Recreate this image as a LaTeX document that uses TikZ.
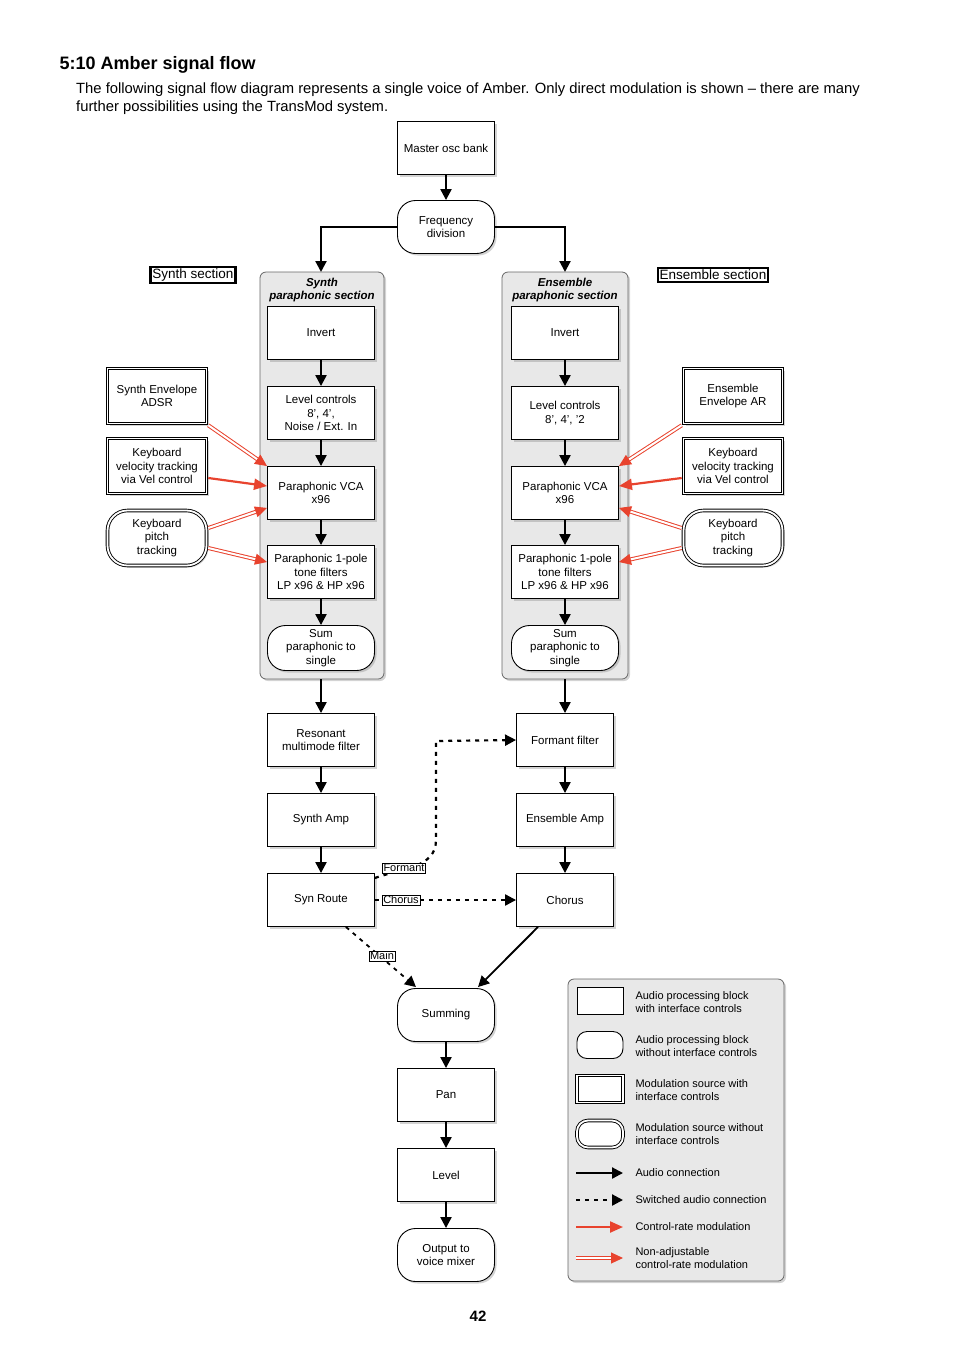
\documentclass[tikz,border=0pt]{standalone}
\usepackage{fontspec}
\setmainfont{Liberation Sans}
\usetikzlibrary{positioning,arrows.meta,shadows}
\definecolor{modred}{RGB}{232,67,46}

\tikzset{
  blk/.style={draw,line width=0.9pt,fill=white,align=center,minimum height=53pt,minimum width=107pt,font=\fontsize{11.5}{13.5}\selectfont,drop shadow={opacity=0.35,shadow xshift=2pt,shadow yshift=-2pt}},
  rblk/.style={blk,rounded corners=18pt},
  mod/.style={blk,minimum width=99pt,minimum height=55pt,line width=3.6pt,postaction={draw=white,line width=1.8pt}},
  rmod/.style={mod,rounded corners=20pt},
  panel/.style={draw=gray!80!black,fill=gray!18,rounded corners=6pt,line width=0.8pt,drop shadow={opacity=0.35,shadow xshift=2pt,shadow yshift=-2pt}},
  aud/.style={-{Triangle[length=11pt,width=11pt]},line width=2.2pt},
  sw/.style={aud,dash pattern=on 4pt off 5pt},
  ctl/.style={-{Triangle[length=13pt,width=11pt]},draw=modred,fill=modred,line width=2.2pt},
  nadj/.style={draw=modred,double=white,double distance=2pt,line width=1pt,-{Triangle[length=12pt,width=11pt,fill=modred]}},
  sec/.style={draw,line width=2.2pt,inner sep=2pt,font=\fontsize{13.5}{15}\selectfont},
  tag/.style={draw,fill=white,inner sep=1pt,font=\fontsize{11}{13}\selectfont}
}

\begin{document}
\begin{tikzpicture}[x=1pt,y=-1pt]
  \useasboundingbox (0,0) rectangle (954,1350);

  \node[anchor=west,font=\fontsize{18}{20}\selectfont\bfseries] at (56,65) {5:10 Amber signal flow};
  \node[anchor=north west,align=left,font=\fontsize{14.8}{18}\selectfont,inner sep=0pt] at (76,83)
    {The following signal flow diagram represents a single voice of Amber. Only direct modulation is shown -- there are many\\further possibilities using the TransMod system.};
  \node[font=\fontsize{15}{17}\selectfont\bfseries] at (478,1316) {42};

  % panels
  \draw[panel] (260,272) rectangle (384,679);
  \draw[panel] (502,272) rectangle (628,679);
  \draw[panel] (568,979) rectangle (784,1281);
  \node[align=center,font=\fontsize{11.5}{13.5}\selectfont\bfseries\itshape] at (322,290) {Synth\\paraphonic section};
  \node[align=center,font=\fontsize{11.5}{13.5}\selectfont\bfseries\itshape] at (565,290) {Ensemble\\paraphonic section};

  \node[sec] (synsec) at (193,275) {Synth section};
  \node[sec] (enssec) at (713,275) {Ensemble section};

  % top
  \node[blk,minimum width=97pt] (osc) at (446,148) {Master osc bank};
  \node[rblk,minimum width=97pt] (freq) at (446,227) {Frequency\\division};

  % synth column
  \node[blk] (sinv) at (321,333) {Invert};
  \node[blk] (slev) at (321,413) {Level controls\\8', 4',\\Noise / Ext. In};
  \node[blk] (svca) at (321,493) {Paraphonic VCA\\x96};
  \node[blk] (sflt) at (321,572) {Paraphonic 1-pole\\tone filters\\LP x96 \& HP x96};
  \node[rblk,minimum height=45pt] (ssum) at (321,648) {Sum\\paraphonic to\\single};
  \node[blk] (sres) at (321,740) {Resonant\\multimode filter};
  \node[blk] (samp) at (321,820) {Synth Amp};
  \node[blk] (sroute) at (321,900) {Syn Route};

  % ensemble column
  \node[blk] (einv) at (565,333) {Invert};
  \node[blk] (elev) at (565,413) {Level controls\\8', 4', '2};
  \node[blk] (evca) at (565,493) {Paraphonic VCA\\x96};
  \node[blk] (eflt) at (565,572) {Paraphonic 1-pole\\tone filters\\LP x96 \& HP x96};
  \node[rblk,minimum height=45pt] (esum) at (565,648) {Sum\\paraphonic to\\single};
  \node[blk,minimum width=97pt] (eform) at (565,740) {Formant filter};
  \node[blk,minimum width=97pt] (eamp) at (565,820) {Ensemble Amp};
  \node[blk,minimum width=97pt] (echor) at (565,900) {Chorus};

  % output chain
  \node[rblk,minimum width=97pt] (summ) at (446,1015) {Summing};
  \node[blk,minimum width=97pt] (pan) at (446,1095) {Pan};
  \node[blk,minimum width=97pt] (level) at (446,1175) {Level};
  \node[rblk,minimum width=97pt] (out) at (446,1255) {Output to\\voice mixer};

  % modulation sources
  \node[mod] (senv) at (157,396) {Synth Envelope\\ADSR};
  \node[mod] (svel) at (157,466) {Keyboard\\velocity tracking\\via Vel control};
  \node[rmod] (spitch) at (157,538) {Keyboard\\pitch\\tracking};
  \node[mod] (eenv) at (733,396) {Ensemble\\Envelope AR};
  \node[mod] (evel) at (733,466) {Keyboard\\velocity tracking\\via Vel control};
  \node[rmod] (epitch) at (733,538) {Keyboard\\pitch\\tracking};

  % audio
  \draw[aud] (osc) -- (freq);
  \draw[aud] (freq.west) -| (321,272);
  \draw[aud] (freq.east) -| (565,272);
  \foreach \a/\b in {sinv/slev,slev/svca,svca/sflt,sflt/ssum,sres/samp,samp/sroute,
                     einv/elev,elev/evca,evca/eflt,eflt/esum,eform/eamp,eamp/echor,
                     summ/pan,pan/level,level/out}
    \draw[aud] (\a) -- (\b);
  \draw[aud] (321,679) -- (sres);
  \draw[aud] (565,679) -- (eform);
  \draw[aud,line width=1.8pt] ([xshift=-27pt]echor.south) -- ([xshift=32pt,yshift=1pt]summ.north);

  % switched
  \draw[sw] ([yshift=22pt]sroute.east) to[out=20,in=-90] (436,840) -- (436,741) -- (eform.west);
  \node[tag] at (404,868) {Formant};
  \draw[sw] (sroute.east) -- (echor.west);
  \node[tag] at (401,900) {Chorus};
  \draw[sw,line width=1.8pt] ([xshift=-29pt]sroute.south east) -- ([xshift=-30pt,yshift=1pt]summ.north);
  \node[tag] at (382,956) {Main};

  % modulation
  \draw[nadj] (senv.south east) -- (svca.north west);
  \draw[ctl] ([yshift=-12pt]svel.east) -- ([yshift=7pt]svca.west);
  \draw[nadj] ([yshift=10pt]spitch.east) -- ([yshift=12pt]svca.south west);
  \draw[nadj] ([yshift=-10pt]spitch.east) -- ([yshift=10pt]sflt.west);
  \draw[nadj] (eenv.south west) -- (evca.north east);
  \draw[ctl] ([yshift=-12pt]evel.west) -- ([yshift=7pt]evca.east);
  \draw[nadj] ([yshift=10pt]epitch.west) -- ([yshift=12pt]evca.south east);
  \draw[nadj] ([yshift=-10pt]epitch.west) -- ([yshift=10pt]eflt.east);

  % legend
  \tikzset{lg/.style={anchor=west,align=left,font=\fontsize{11}{13}\selectfont},
           key/.style={draw,line width=0.9pt,fill=white,minimum width=46pt,minimum height=27pt}}
  \node[key] (l1) at (600,1001) {};
  \node[key,rounded corners=10pt] (l2) at (600,1045) {};
  \node[key,line width=3.6pt,postaction={draw=white,line width=1.8pt}] (l3) at (600,1089) {};
  \node[key,line width=3.6pt,postaction={draw=white,line width=1.8pt},rounded corners=11pt] (l4) at (600,1134) {};
  \node[lg] (t1) at (632,1002) {Audio processing block\\with interface controls};
  \node[lg] (t2) at (632,1046) {Audio processing block\\without interface controls};
  \node[lg] (t3) at (632,1090) {Modulation source with\\interface controls};
  \node[lg] (t4) at (632,1134) {Modulation source without\\interface controls};
  \node[lg] (t5) at (632,1173) {Audio connection};
  \node[lg] (t6) at (632,1200) {Switched audio connection};
  \node[lg] (t7) at (632,1227) {Control-rate modulation};
  \node[lg] (t8) at (632,1258) {Non-adjustable\\control-rate modulation};
  \coordinate (a5) at (576,1173); \coordinate (b5) at (623,1173);
  \coordinate (a6) at (576,1200); \coordinate (b6) at (623,1200);
  \coordinate (a7) at (576,1227); \coordinate (b7) at (623,1227);
  \coordinate (a8) at (576,1258); \coordinate (b8) at (623,1258);
  \draw[aud] (a5) -- (b5);
  \draw[sw] (a6) -- (b6);
  \draw[ctl] (a7) -- (b7);
  \draw[nadj] (a8) -- (b8);
\end{tikzpicture}
\end{document}
